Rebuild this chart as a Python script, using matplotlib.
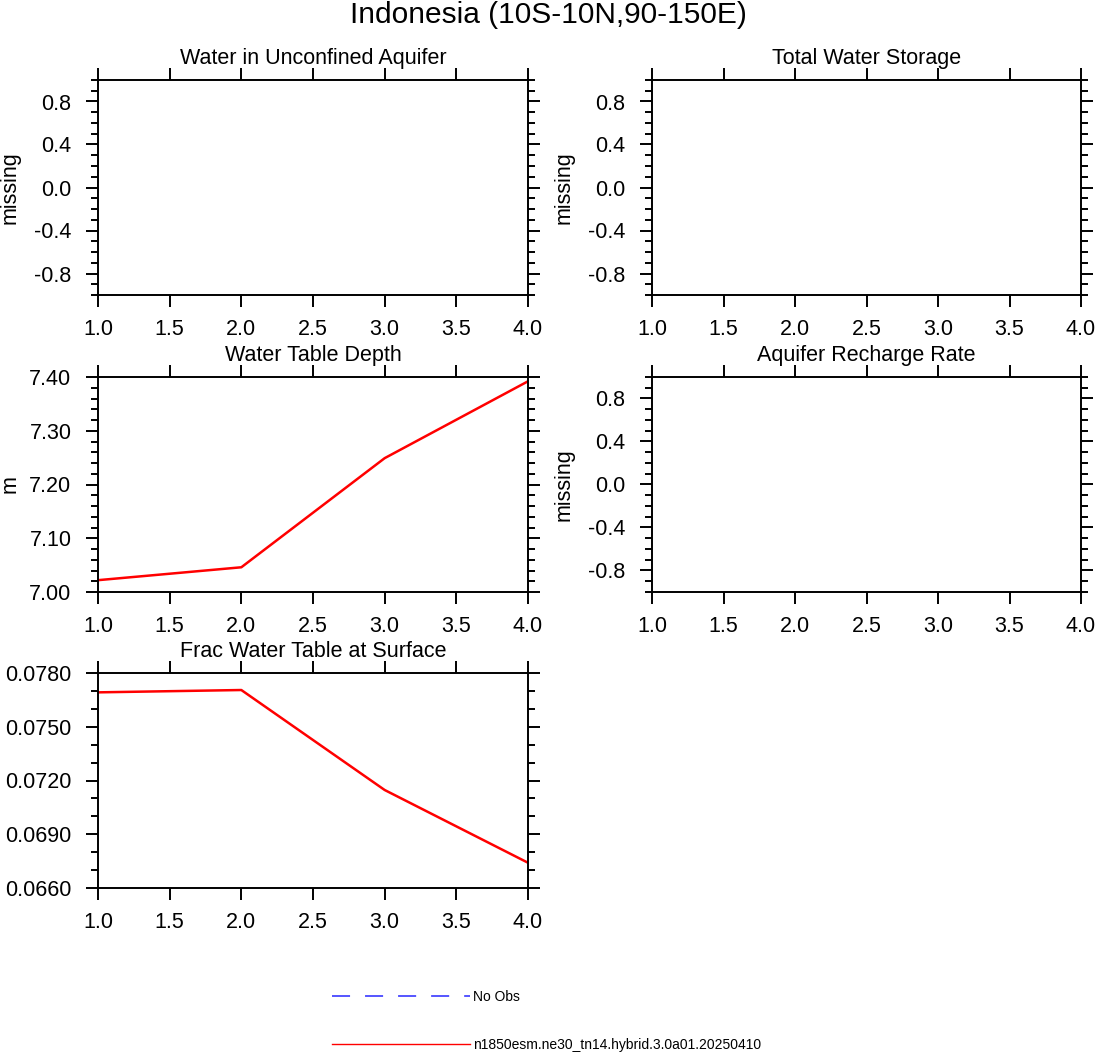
import numpy as np
import matplotlib
matplotlib.use("Agg")
import matplotlib.pyplot as plt
from matplotlib.ticker import FixedLocator, MultipleLocator, FormatStrFormatter
from matplotlib.lines import Line2D

plt.rcParams['font.family'] = ['Liberation Sans', 'DejaVu Sans']

# datos (años 1..4)
years = [1, 2, 3, 4]
wtd = [7.022, 7.046, 7.249, 7.392]          # Water Table Depth (m)
frac_wt = [0.07692, 0.07705, 0.07147, 0.06741]  # Frac Water Table at Surface

panel_titles = ["Water in Unconfined Aquifer", "Total Water Storage",
                "Water Table Depth", "Aquifer Recharge Rate",
                "Frac Water Table at Surface"]
panel_units = ["missing", "missing", "m", "missing", ""]

x_ticks = [1.0, 1.5, 2.0, 2.5, 3.0, 3.5, 4.0]
miss_ticks = [-0.8, -0.4, 0.0, 0.4, 0.8]
wtd_ticks = [7.00, 7.10, 7.20, 7.30, 7.40]
frac_ticks = [0.0660, 0.0690, 0.0720, 0.0750, 0.0780]

legend_labels = ["No Obs", "n1850esm.ne30_tn14.hybrid.3.0a01.20250410"]

W, H = 1096, 1053
fig = plt.figure(figsize=(W / 100, H / 100), dpi=100)

# cajas de los paneles en pixeles (izq, arriba, der, abajo)
boxes = [(98, 80, 528, 295), (652, 80, 1081, 295),
         (98, 377, 528, 592), (652, 377, 1081, 592),
         (98, 673, 528, 888)]


def make_ax(box):
    l, t, r, b = box
    return fig.add_axes([l / W, 1 - b / H, (r - l) / W, (b - t) / H])


axes = []
for i, box in enumerate(boxes):
    ax = make_ax(box)
    ax.set_xlim(1, 4)
    ax.xaxis.set_major_locator(FixedLocator(x_ticks))
    ax.xaxis.set_major_formatter(FormatStrFormatter('%.1f'))
    ax.tick_params(which='both', direction='out', top=True, right=True,
                   labelsize=15.5, width=1.4)
    ax.tick_params(which='major', length=8.6)
    ax.tick_params(which='minor', length=5)
    ax.tick_params(axis='x', which='major', pad=9)
    ax.tick_params(axis='y', which='major', pad=10.5)
    for s in ax.spines.values():
        s.set_linewidth(1.4)
    box_h = box[3] - box[1]
    ax.text(0.5, 1 + 16 / box_h, panel_titles[i], transform=ax.transAxes,
            ha='center', va='baseline', fontsize=15.5)
    if panel_units[i]:
        ax.set_ylabel(panel_units[i], fontsize=15.5)
        ax.yaxis.set_label_coords(-0.18, 0.5)
    axes.append(ax)

# paneles sin datos
for k in [0, 1, 3]:
    ax = axes[k]
    ax.set_ylim(-1, 1)
    ax.yaxis.set_major_locator(FixedLocator(miss_ticks))
    ax.yaxis.set_minor_locator(MultipleLocator(0.1))
    ax.yaxis.set_major_formatter(FormatStrFormatter('%.1f'))

# Water Table Depth
ax = axes[2]
ax.plot(years, wtd, color='red', lw=1.8)
ax.set_ylim(7.0, 7.4)
ax.yaxis.set_major_locator(FixedLocator(wtd_ticks))
ax.yaxis.set_minor_locator(MultipleLocator(0.02))
ax.yaxis.set_major_formatter(FormatStrFormatter('%.2f'))

# Frac Water Table at Surface
ax = axes[4]
ax.plot(years, frac_wt, color='red', lw=1.8)
ax.set_ylim(0.066, 0.078)
ax.yaxis.set_major_locator(FixedLocator(frac_ticks))
ax.yaxis.set_minor_locator(MultipleLocator(0.001))
ax.yaxis.set_major_formatter(FormatStrFormatter('%.4f'))

fig.text(0.5, 1 - 15 / H, "Indonesia (10S-10N,90-150E)", ha='center',
         va='center', fontsize=21.5)

handles = [Line2D([], [], color='#4848ff', lw=1.3, dashes=(10, 8.3)),
           Line2D([], [], color='red', lw=1)]
fig.legend(handles, legend_labels, loc='upper left',
           bbox_to_anchor=(332 / W, 1 - 990 / H), frameon=False,
           fontsize=10, handlelength=9.9, handletextpad=0.25,
           labelspacing=2.45, borderpad=0, borderaxespad=0)

fig.savefig("out.png", dpi=100)
